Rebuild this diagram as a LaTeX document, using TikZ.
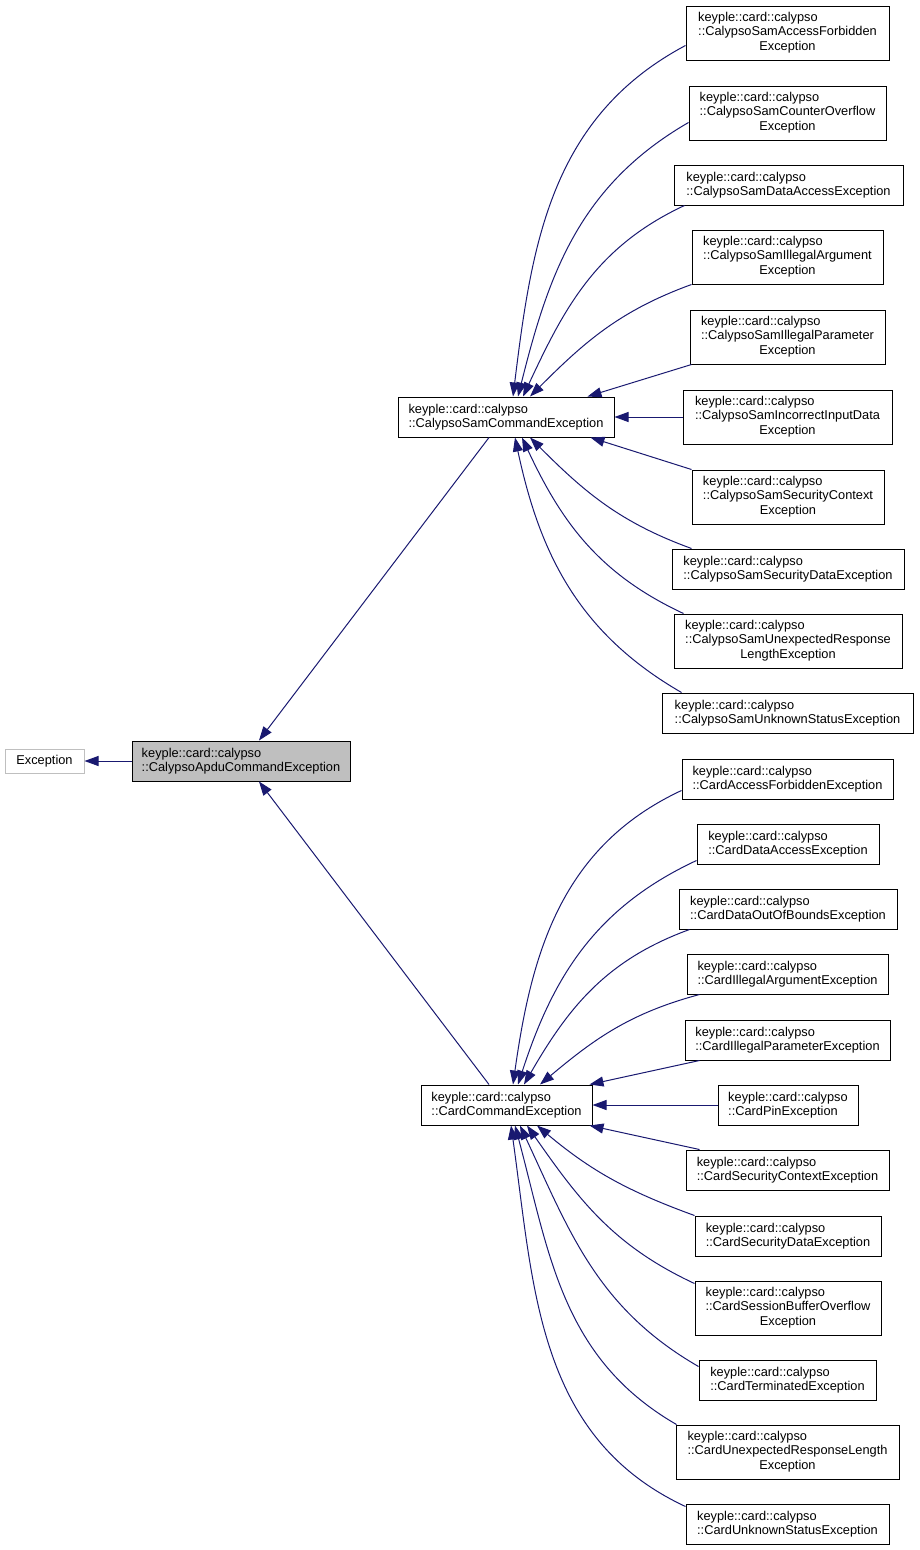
\documentclass[tikz,border=0pt]{standalone}
\usepackage{fontspec}
\setmainfont{Liberation Sans}
\usetikzlibrary{arrows.meta}
\definecolor{edgeblue}{RGB}{25,25,112}
\definecolor{boxgray}{RGB}{191,191,191}
\newcommand{\threeline}[3]{\begin{tabular}{@{}l@{}}#1\\#2\\\multicolumn{1}{@{}c@{}}{#3}\end{tabular}}

\begin{document}
\begin{tikzpicture}[x=1pt, y=-1pt,
		cls/.style={rectangle, draw=black, line width=1pt, align=left, inner sep=0pt, font=\fontsize{12.8}{14.5}\selectfont},
		arrow/.style={-{Triangle[length=14pt, width=10pt]}, draw=edgeblue, line width=1pt}
	]
		\useasboundingbox (0,0) rectangle (919,1550);

		% base classes
		\node[cls, draw=boxgray, minimum width=79pt, minimum height=24pt] (exc) at (44.5,761) {Exception};
		\node[cls, fill=boxgray, minimum width=218pt, minimum height=40pt] (apdu) at (241,761) {keyple::card::calypso\\::CalypsoApduCommandException};
		\node[cls, minimum width=216pt, minimum height=40pt] (samcmd) at (506,417) {keyple::card::calypso\\::CalypsoSamCommandException};
		\node[cls, minimum width=171pt, minimum height=40pt] (cardcmd) at (506.5,1105) {keyple::card::calypso\\::CardCommandException};

		% sam exceptions
		\node[cls, minimum width=203pt, minimum height=54pt] (s1) at (787.5,33) {\threeline{keyple::card::calypso}{::CalypsoSamAccessForbidden}{Exception}};
		\node[cls, minimum width=197pt, minimum height=54pt] (s2) at (787.5,113) {\threeline{keyple::card::calypso}{::CalypsoSamCounterOverflow}{Exception}};
		\node[cls, minimum width=229pt, minimum height=40pt] (s3) at (788.5,185) {keyple::card::calypso\\::CalypsoSamDataAccessException};
		\node[cls, minimum width=191pt, minimum height=54pt] (s4) at (787.5,257) {\threeline{keyple::card::calypso}{::CalypsoSamIllegalArgument}{Exception}};
		\node[cls, minimum width=195pt, minimum height=54pt] (s5) at (787.5,337) {\threeline{keyple::card::calypso}{::CalypsoSamIllegalParameter}{Exception}};
		\node[cls, minimum width=209pt, minimum height=54pt] (s6) at (787.5,417) {\threeline{keyple::card::calypso}{::CalypsoSamIncorrectInputData}{Exception}};
		\node[cls, minimum width=192pt, minimum height=54pt] (s7) at (788,497) {\threeline{keyple::card::calypso}{::CalypsoSamSecurityContext}{Exception}};
		\node[cls, minimum width=232pt, minimum height=40pt] (s8) at (788,569) {keyple::card::calypso\\::CalypsoSamSecurityDataException};
		\node[cls, minimum width=228pt, minimum height=54pt] (s9) at (788,641) {\threeline{keyple::card::calypso}{::CalypsoSamUnexpectedResponse}{LengthException}};
		\node[cls, minimum width=251pt, minimum height=40pt] (s10) at (787.5,713) {keyple::card::calypso\\::CalypsoSamUnknownStatusException};

		% card exceptions
		\node[cls, minimum width=211pt, minimum height=40pt] (c1) at (787.5,779) {keyple::card::calypso\\::CardAccessForbiddenException};
		\node[cls, minimum width=182pt, minimum height=40pt] (c2) at (788,844) {keyple::card::calypso\\::CardDataAccessException};
		\node[cls, minimum width=218pt, minimum height=40pt] (c3) at (788,909) {keyple::card::calypso\\::CardDataOutOfBoundsException};
		\node[cls, minimum width=201pt, minimum height=40pt] (c4) at (787.5,974) {keyple::card::calypso\\::CardIllegalArgumentException};
		\node[cls, minimum width=205pt, minimum height=40pt] (c5) at (787.5,1040) {keyple::card::calypso\\::CardIllegalParameterException};
		\node[cls, minimum width=140pt, minimum height=40pt] (c6) at (788,1105) {keyple::card::calypso\\::CardPinException};
		\node[cls, minimum width=203pt, minimum height=40pt] (c7) at (787.5,1170) {keyple::card::calypso\\::CardSecurityContextException};
		\node[cls, minimum width=186pt, minimum height=40pt] (c8) at (788,1236) {keyple::card::calypso\\::CardSecurityDataException};
		\node[cls, minimum width=186pt, minimum height=54pt] (c9) at (788,1308) {\threeline{keyple::card::calypso}{::CardSessionBufferOverflow}{Exception}};
		\node[cls, minimum width=177pt, minimum height=40pt] (c10) at (787.5,1380) {keyple::card::calypso\\::CardTerminatedException};
		\node[cls, minimum width=223pt, minimum height=54pt] (c11) at (787.5,1452) {\threeline{keyple::card::calypso}{::CardUnexpectedResponseLength}{Exception}};
		\node[cls, minimum width=203pt, minimum height=40pt] (c12) at (787.5,1524) {keyple::card::calypso\\::CardUnknownStatusException};

		% inheritance
		\draw[arrow] (apdu) -- (exc);
		\draw[arrow] ([xshift=-17pt]samcmd.south) -- ([xshift=18pt]apdu.north);
		\draw[arrow] ([xshift=-17.5pt]cardcmd.north) -- ([xshift=18pt]apdu.south);

		\draw[arrow] ([yshift=15pt]s1.south west) to[out=208, in=83] ([xshift=7pt]samcmd.north);
		\draw[arrow] ([yshift=18pt]s2.south west) to[out=210, in=76] ([xshift=12pt]samcmd.north);
		\draw[arrow] ([xshift=11pt]s3.south west) to[out=205, in=65] ([xshift=17pt]samcmd.north);
		\draw[arrow] (s4.south west) to[out=200, in=45] ([xshift=24pt]samcmd.north);
		\draw[arrow] ([xshift=2pt]s5.south west) -- ([xshift=-27pt]samcmd.north east);
		\draw[arrow] (s6) -- (samcmd);
		\draw[arrow] (s7.north west) -- ([xshift=-24pt]samcmd.south east);
		\draw[arrow] ([xshift=20pt]s8.north west) to[out=160, in=-45] ([xshift=24pt]samcmd.south);
		\draw[arrow] ([xshift=10pt]s9.north west) to[out=155, in=-65] ([xshift=16pt]samcmd.south);
		\draw[arrow] ([xshift=20pt]s10.north west) to[out=150, in=-78] ([xshift=9pt]samcmd.south);

		\draw[arrow] ([yshift=9pt]c1.south west) to[out=205, in=82] ([xshift=6.5pt]cardcmd.north);
		\draw[arrow] ([yshift=4pt]c2.south west) to[out=205, in=72] ([xshift=11.5pt]cardcmd.north);
		\draw[arrow] ([xshift=11pt]c3.south west) to[out=200, in=60] ([xshift=17.5pt]cardcmd.north);
		\draw[arrow] ([xshift=13pt]c4.south west) to[out=195, in=40] ([xshift=33.5pt]cardcmd.north);
		\draw[arrow] ([xshift=15pt]c5.south west) -- ([xshift=-3pt]cardcmd.north east);
		\draw[arrow] (c6) -- (cardcmd);
		\draw[arrow] ([xshift=14pt]c7.north west) -- ([xshift=-3pt]cardcmd.south east);
		\draw[arrow] (c8.north west) to[out=160, in=-40] ([xshift=30.5pt]cardcmd.south);
		\draw[arrow] ([yshift=-3pt]c9.north west) to[out=155, in=-55] ([xshift=20.5pt]cardcmd.south);
		\draw[arrow] ([yshift=-7pt]c10.north west) to[out=150, in=-65] ([xshift=13.5pt]cardcmd.south);
		\draw[arrow] ([xshift=1pt]c11.north west) to[out=150, in=-75] ([xshift=8.5pt]cardcmd.south);
		\draw[arrow] ([yshift=-3pt]c12.north west) to[out=155, in=-82] ([xshift=4.5pt]cardcmd.south);
	\end{tikzpicture}
\end{document}
